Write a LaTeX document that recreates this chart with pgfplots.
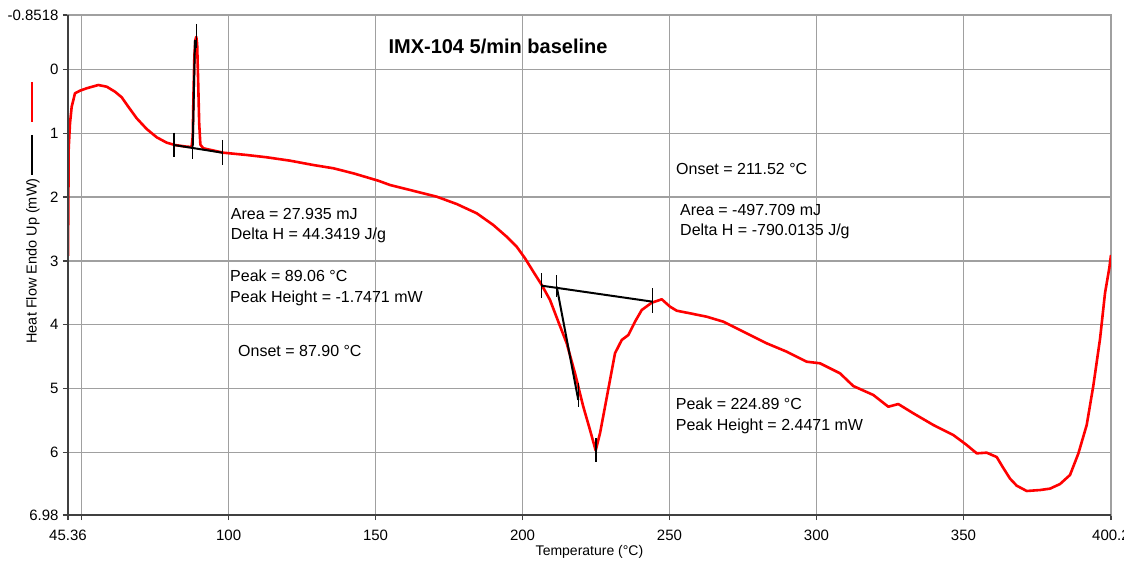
\documentclass[border=0pt]{standalone}
\usepackage{fontspec}
\setmainfont{Liberation Sans}
\usepackage{pgfplots}
\usepackage{pgfplotstable}
\pgfplotsset{compat=1.18}
\definecolor{gridgray}{RGB}{160,160,160}
\definecolor{axisdark}{RGB}{64,64,64}
\definecolor{dscred}{RGB}{255,0,0}

% DSC heat flow trace, temperature (C) vs heat flow (mW)
\pgfplotstableread{
T HF
45.36 2.92
45.60 1.236
46.04 0.845
46.62 0.585
47.74 0.375
49.44 0.334
51.72 0.296
55.67 0.245
58.53 0.271
61.35 0.350
63.63 0.437
65.88 0.585
68.73 0.766
72.13 0.934
75.54 1.064
78.94 1.148
81.76 1.185
85.74 1.211
87.40 1.215
87.80 1.05
88.05 0.40
88.35 -0.20
88.70 -0.46
89.00 -0.51
89.30 -0.40
89.65 0.20
90.00 0.85
90.40 1.18
91.39 1.236
98.20 1.305
106.16 1.341
112.96 1.377
120.89 1.430
128.82 1.498
135.62 1.549
142.43 1.628
150.93 1.744
154.91 1.811
161.72 1.889
170.80 1.994
177.60 2.109
184.41 2.254
190.06 2.438
194.61 2.621
198.02 2.778
200.84 2.959
203.67 3.169
206.53 3.377
209.35 3.612
212.17 3.952
215.03 4.291
217.85 4.761
220.68 5.284
222.96 5.649
224.89 5.97
226.36 5.700
228.06 5.284
229.76 4.866
231.46 4.447
233.74 4.239
235.99 4.161
238.27 3.952
240.55 3.769
243.95 3.655
247.36 3.601
250.18 3.717
252.46 3.780
256.98 3.821
262.66 3.874
268.31 3.952
273.99 4.082
283.07 4.291
289.88 4.422
296.68 4.579
301.20 4.604
308.01 4.761
312.53 4.960
319.34 5.100
324.44 5.284
327.84 5.242
332.95 5.387
339.75 5.570
346.56 5.727
351.12 5.884
354.52 6.014
357.92 6.004
361.32 6.072
363.57 6.244
365.85 6.410
368.13 6.521
371.53 6.604
376.06 6.589
379.46 6.567
382.86 6.495
386.26 6.353
389.09 6.018
391.94 5.570
394.19 4.955
396.47 4.223
398.17 3.503
399.63 3.111
400.20 2.907
}\dsc

\begin{document}
\begin{tikzpicture}
\useasboundingbox (-68pt,-46pt) rectangle (1056pt,515pt);
\begin{axis}[
    width=1043pt, height=500pt, scale only axis,
    xmin=45.36, xmax=400.2,
    ymin=-0.8518, ymax=6.98,
    y dir=reverse,
    xtick={45.36,50,100,150,200,250,300,350,400.2},
    xticklabels={45.36,,100,150,200,250,300,350,400.2},
    ytick={-0.8518,0,1,2,3,4,5,6,6.98},
    yticklabels={-0.8518,0,1,2,3,4,5,6,6.98},
    tick label style={font=\fontsize{15}{17}\selectfont},
    xticklabel style={yshift=-6pt},
    yticklabel style={xshift=-1pt},
    xtick pos=bottom, ytick pos=left,
    tick align=outside, major tick length=5pt,
    tick style={axisdark, line width=1.2pt},
    grid=major,
    major grid style={gridgray, line width=1.2pt},
    axis line style={gridgray, line width=1.2pt},
]
\addplot[dscred, line width=2.6pt, line join=round] table[x=T, y=HF] {\dsc};

% first (endothermic spike) analysis lines
\addplot[black, line width=2pt] coordinates {(81.42,1.185) (97.86,1.305)};
\addplot[black, line width=2pt] coordinates {(87.79,1.211) (88.57,-0.46)};
\addplot[black, line width=1.2pt] coordinates {(81.42,0.992) (81.42,1.377)};
\addplot[black, line width=1.2pt] coordinates {(87.79,1.106) (87.79,1.408)};
\addplot[black, line width=1.2pt] coordinates {(97.86,1.106) (97.86,1.498)};
\addplot[black, line width=1.2pt] coordinates {(89.15,-0.711) (89.15,-0.335)};

% second peak analysis lines
\addplot[black, line width=2pt] coordinates {(206.52,3.388) (244.29,3.639)};
\addplot[black, line width=2pt] coordinates {(211.63,3.404) (218.97,5.179)};
\addplot[black, line width=1.2pt] coordinates {(206.52,3.194) (206.52,3.586)};
\addplot[black, line width=1.2pt] coordinates {(211.63,3.221) (211.63,3.561)};
\addplot[black, line width=1.2pt] coordinates {(244.29,3.429) (244.29,3.821)};
\addplot[black, line width=1.2pt] coordinates {(218.97,4.912) (218.97,5.288)};
\addplot[black, line width=1.2pt] coordinates {(225.0,5.779) (225.0,6.145)};
\end{axis}

% left and bottom axis lines
\draw[axisdark, line width=1.5pt] (0,500pt) -- (0,0) -- (1043pt,0);

% y axis key and label
\draw[dscred, line width=2pt] (-36pt,433pt) -- (-36pt,393pt);
\draw[black, line width=1.3pt] (-36pt,380pt) -- (-36pt,340pt);
\node[rotate=90, font=\fontsize{14.5}{16}\selectfont] at (-35pt,254pt) {Heat Flow Endo Up (mW)};
\node[anchor=base, font=\fontsize{14}{16}\selectfont] at (521.5pt,-41pt) {Temperature (°C)};

% title
\node[anchor=base west, font=\bfseries\fontsize{20}{24}\selectfont] at (317pt,461.7pt) {IMX-104 5/min baseline};

% annotations
\begin{scope}[every node/.style={anchor=base west, inner sep=0pt, font=\fontsize{16}{18}\selectfont}]
\node at (162.7pt,295pt) {Area = 27.935 mJ};
\node at (162.7pt,275pt) {Delta H = 44.3419 J/g};
\node at (162pt,233pt) {Peak = 89.06 °C};
\node at (162pt,212pt) {Peak Height = -1.7471 mW};
\node at (170pt,158pt) {Onset = 87.90 °C};
\node at (608pt,340pt) {Onset = 211.52 °C};
\node at (612pt,299pt) {Area = -497.709 mJ};
\node at (612pt,279pt) {Delta H = -790.0135 J/g};
\node at (607.7pt,105pt) {Peak = 224.89 °C};
\node at (607.7pt,84.3pt) {Peak Height = 2.4471 mW};
\end{scope}
\end{tikzpicture}
\end{document}
